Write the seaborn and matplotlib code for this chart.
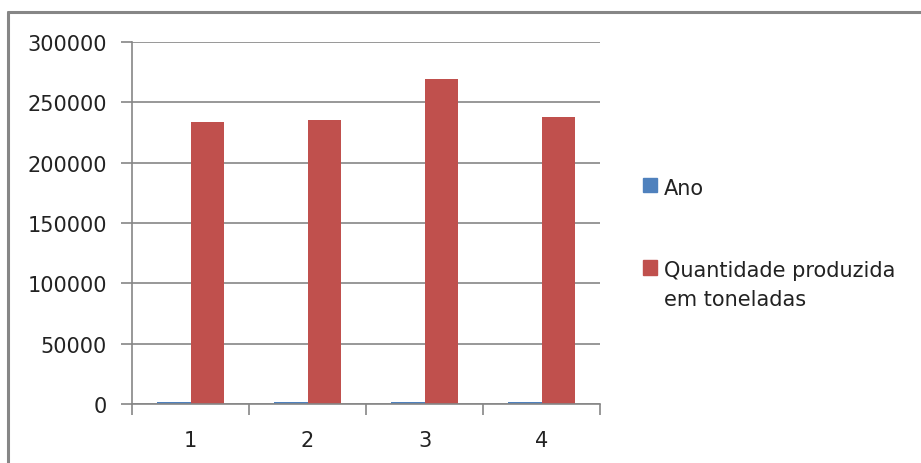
import pandas as pd
import matplotlib
matplotlib.use("Agg")
import matplotlib.pyplot as plt
import seaborn as sns
from matplotlib.lines import Line2D

# data
categorias = ["1", "2", "3", "4"]
ano = [2005, 2006, 2007, 2008]
quantidade = [233500, 235000, 269000, 237500]
series = ["Ano", "Quantidade produzida\nem toneladas"]
cores = ["#4F81BD", "#C0504D"]

df = pd.DataFrame({
    "categoria": categorias * 2,
    "valor": ano + quantidade,
    "serie": [series[0]] * 4 + [series[1]] * 4,
})

sns.set_style("white")
plt.rcParams["font.family"] = ["DejaVu Sans"]

fig = plt.figure(figsize=(9.21, 4.64), dpi=100)
ax = fig.add_axes([132 / 921, 1 - 405 / 464, 468 / 921, 362 / 464])

sns.barplot(data=df, x="categoria", y="valor", hue="serie", palette=cores,
            saturation=1, width=0.575, gap=0, linewidth=0, ax=ax, legend=False)

ax.set_xlim(-0.5, 3.5)
ax.set_ylim(0, 300000)
ax.set_yticks(range(0, 300001, 50000))
ax.set_yticklabels([str(v) for v in range(0, 300001, 50000)], fontsize=15, color="#222222")
ax.grid(axis="y", color="#868686", linewidth=1.2)
ax.set_axisbelow(True)

# category boundaries as major ticks, labels on minor ticks
ax.set_xticks([-0.5, 0.5, 1.5, 2.5, 3.5])
ax.set_xticklabels([])
ax.set_xticks(range(4), minor=True)
ax.set_xticklabels(categorias, minor=True, fontsize=15, color="#222222")
ax.tick_params(axis="x", which="major", length=8, width=1.2, color="#868686", bottom=True)
ax.tick_params(axis="x", which="minor", length=0, pad=19)
ax.tick_params(axis="y", length=8, width=1.2, color="#868686", left=True, pad=10)
ax.set_xlabel("")
ax.set_ylabel("")

for s in ["top", "right"]:
    ax.spines[s].set_visible(False)
for s in ["left", "bottom"]:
    ax.spines[s].set_color("#868686")
    ax.spines[s].set_linewidth(1.2)

handles = [plt.Rectangle((0, 0), 1, 1, color=c) for c in cores]
leg = fig.legend(handles, series, loc="upper left", bbox_to_anchor=(624 / 921, 1 - 160 / 464),
                 frameon=False, fontsize=15, handlelength=0.7, handleheight=0.7,
                 handletextpad=0.3, labelspacing=3.0)
for t in leg.get_texts():
    t.set_color("#222222")
    t.set_linespacing(1.55)
# square next to the first line of the label, as in Excel
for col in leg._legend_handle_box.get_children():
    for item in col.get_children():
        item.align = "top"

# outer chart border (gray frame, cut at right and bottom)
fig.add_artist(Line2D([8 / 921, 8 / 921], [0, 1 - 13 / 464], transform=fig.transFigure,
                      color="#868686", linewidth=2.2))
fig.add_artist(Line2D([8 / 921, 1], [1 - 13 / 464, 1 - 13 / 464], transform=fig.transFigure,
                      color="#868686", linewidth=2.2))

fig.savefig("out.png", dpi=100)
